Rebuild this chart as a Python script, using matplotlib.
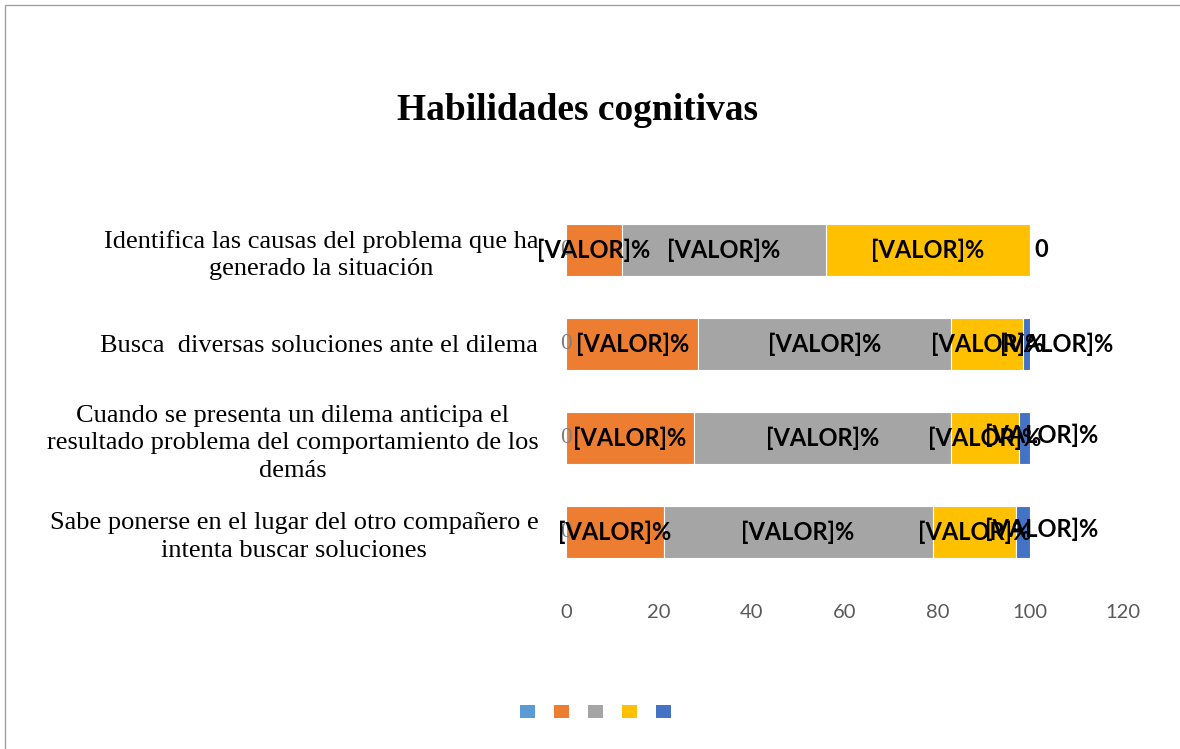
import matplotlib
matplotlib.use('Agg')
import matplotlib.pyplot as plt
from matplotlib.patches import Patch, Rectangle
import numpy as np

# categories, top to bottom
categories = [
    'Identifica las causas del problema que ha\ngenerado la situación',
    'Busca  diversas soluciones ante el dilema',
    'Cuando se presenta un dilema anticipa el\nresultado problema del comportamiento de los\ndemás',
    'Sabe ponerse en el lugar del otro compañero e\nintenta buscar soluciones',
]

# five series (values in %)
serie1 = [0, 0, 0, 0]
serie2 = [12, 28.5, 27.5, 21]
serie3 = [44, 54.5, 55.5, 58]
serie4 = [44, 15.5, 14.5, 18]
serie5 = [0, 1.5, 2.5, 3]

series = [serie1, serie2, serie3, serie4, serie5]
colors = ['#5B9BD5', '#ED7D31', '#A5A5A5', '#FFC000', '#4472C4']
xticks = [0, 20, 40, 60, 80, 100, 120]

serif = 'Liberation Serif'
sans = 'Lato'


def main():
    fig = plt.figure(figsize=(11.8, 7.49), dpi=100)
    ax = fig.add_axes([0.4797, 0.227, 0.472, 0.502])

    y = np.arange(len(categories))
    left = np.zeros(len(categories))
    conts = []
    for vals, c in zip(series, colors):
        vals = np.array(vals, dtype=float)
        bars = ax.barh(y, vals, left=left, height=0.56, color=c,
                       edgecolor='white', linewidth=0.8)
        conts.append((bars, vals, left.copy()))
        left = left + vals

    lab_kw = dict(fontfamily=sans, fontweight='bold', fontsize=17, color='black')

    # first series: just "0" at the base
    for yi, v in zip(y, serie1):
        ax.text(0, yi, f'{v:g}', ha='center', va='center',
                fontfamily=serif, fontsize=17, color='#808080')

    # middle series: centred "[VALOR]%"
    for bars, vals, lft in conts[1:4]:
        ax.bar_label(bars, labels=['[VALOR]%'] * len(vals),
                     label_type='center', **lab_kw)

    # last series: outside end (Excel overlaps them as it likes)
    bars, vals, lft = conts[4]
    offs = [(4, 0), (-30, 0), (-45, 3), (-45, 3)]
    for yi, v, l, (dx, dy) in zip(y, vals, lft, offs):
        txt = f'{v:g}' if v == 0 else '[VALOR]%'
        ax.annotate(txt, (l + v, yi), xytext=(dx, dy),
                    textcoords='offset pixels', ha='left', va='center', **lab_kw)

    ax.set_xlim(0, 120)
    ax.set_ylim(len(categories) - 0.5, -0.5)
    ax.set_xticks(xticks)
    ax.set_xticklabels([str(t) for t in xticks], fontfamily=sans,
                       fontsize=14.5, color='#595959')
    ax.set_yticks(y)
    ax.set_yticklabels(categories, fontfamily=serif, fontsize=19,
                       multialignment='center', linespacing=1.32)
    ax.tick_params(axis='both', length=0)
    ax.tick_params(axis='x', pad=18)
    ax.tick_params(axis='y', pad=20)
    for s in ax.spines.values():
        s.set_visible(False)

    fig.text(0.489, 0.853, 'Habilidades cognitivas', ha='center', va='center',
             fontfamily=serif, fontweight='bold', fontsize=27)

    handles = [Patch(facecolor=c) for c in colors]
    fig.legend(handles, [''] * 5, loc='center', bbox_to_anchor=(0.505, 0.049),
               ncol=5, frameon=False, handlelength=1.08, handleheight=1.08,
               handletextpad=0, columnspacing=1.37)

    fig.patches.append(Rectangle((0.004, -0.01), 1.1, 1.003, transform=fig.transFigure,
                                 fill=False, edgecolor='#A0A0A0', linewidth=1))

    fig.savefig('out.png', dpi=100)


if __name__ == '__main__':
    main()
